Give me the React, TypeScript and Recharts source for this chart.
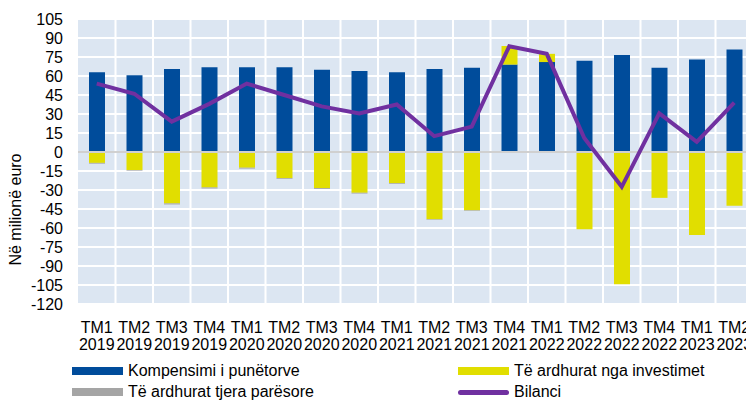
import React from "react";
import { ComposedChart, Bar, Line, XAxis, YAxis, CartesianGrid, ReferenceLine } from "recharts";

const quarters = ["TM1","TM2","TM3","TM4","TM1","TM2","TM3","TM4","TM1","TM2","TM3","TM4","TM1","TM2","TM3","TM4","TM1","TM2"];
const years = ["2019","2019","2019","2019","2020","2020","2020","2020","2021","2021","2021","2021","2022","2022","2022","2022","2023","2023"];
const compensation = [63, 60.5, 65.5, 67, 67, 67, 65, 64, 63, 65.5, 66.5, 69, 71, 72, 76.5, 66.5, 73, 81];
const investment = [-8.6, -14.2, -40.6, -28, -12.4, -20.6, -28.5, -32.2, -24.6, -53, -46, 14.7, 6.5, -61, -104.4, -36.2, -65.6, -42.5];
const otherPrimary = [-0.6, -0.5, -0.8, -0.8, -0.7, -0.6, -0.7, -0.6, -0.6, -0.4, -0.4, 0, 0, 0, 0, 0, 0, 0];
const balance = [54, 46, 24, 38, 54, 45, 36, 30.5, 37.5, 12.5, 20, 83.5, 77.5, 11, -27.5, 30.5, 8, 39];
const yTicks = [-120, -105, -90, -75, -60, -45, -30, -15, 0, 15, 30, 45, 60, 75, 90, 105];

const seriesNames = ["Kompensimi i punëtorve", "Të ardhurat nga investimet", "Të ardhurat tjera parësore", "Bilanci"];
const colors = ["#004C9B", "#E1DE00", "#A5A5A5", "#7030A0"];

const data = quarters.map((q, i) => ({
  label: q + "|" + years[i],
  comp: compensation[i],
  inv: investment[i],
  oth: otherPrimary[i],
  bal: balance[i],
}));

const FONT = "'Liberation Sans', Arial, sans-serif";

const XTick = (props: any) => {
  const { x, y, payload } = props;
  const [a, b] = String(payload.value).split("|");
  return (
    <text x={x} textAnchor="middle" fontFamily={FONT} fontSize={16} fill="#000">
      <tspan x={x} y={y + 29}>{a}</tspan>
      <tspan x={x} y={y + 46}>{b}</tspan>
    </text>
  );
};

const YLabel = (props: any) => {
  const vb = props.viewBox || {};
  const cx = (vb.x || 0) + 15;
  const cy = (vb.y || 0) + (vb.height || 0) / 2 + 48;
  return (
    <text x={cx} y={cy} transform={`rotate(-90, ${cx}, ${cy})`} textAnchor="middle" dominantBaseline="central" fontFamily={FONT} fontSize={16} fill="#000">
      Në milionë euro
    </text>
  );
};

const LegendItem = ({ idx, left, top, line }: { idx: number; left: number; top: number; line?: boolean }) => (
  <div style={{ position: "absolute", left, top, display: "flex", alignItems: "center", height: 18, lineHeight: "18px" }}>
    <div style={{ width: 51, height: line ? 5 : 8, background: colors[idx], borderRadius: line ? 3 : 0, marginRight: 5 }} />
    <span style={{ fontFamily: FONT, fontSize: 16, lineHeight: "18px", color: "#000", whiteSpace: "nowrap" }}>{seriesNames[idx]}</span>
  </div>
);

export default function App() {
  return (
    <div style={{ position: "fixed", left: 0, top: 0, width: 746, height: 400, overflow: "hidden", background: "#fff" }}>
      <ComposedChart
        width={760}
        height={400}
        data={data}
        stackOffset="sign"
        margin={{ top: 19, right: 7, left: 0, bottom: 0 }}
        barSize={16}
      >
        <CartesianGrid
          fill="#DCE6F2"
          fillOpacity={1}
          stroke="#FFFFFF"
          strokeWidth={2}
          verticalCoordinatesGenerator={({ offset }: any) =>
            Array.from({ length: 17 }, (_, k) => offset.left + ((k + 1) * offset.width) / 18)
          }
        />
        <XAxis
          dataKey="label"
          interval={0}
          tickLine={false}
          axisLine={false}
          tickSize={0}
          tickMargin={0}
          height={96}
          tick={<XTick />}
        />
        <YAxis
          domain={[-120, 105]}
          ticks={yTicks}
          interval={0}
          tickLine={false}
          axisLine={false}
          tickSize={0}
          tickMargin={15}
          width={78}
          tick={{ fontFamily: FONT, fontSize: 16, fill: "#000" }}
          label={<YLabel />}
        />
        <Bar dataKey="comp" stackId="s" fill={colors[0]} isAnimationActive={false} />
        <Bar dataKey="inv" stackId="s" fill={colors[1]} isAnimationActive={false} />
        <Bar dataKey="oth" stackId="s" fill={colors[2]} isAnimationActive={false} />
        <ReferenceLine y={0} stroke="#D0D0D0" strokeWidth={2} />
        <Line dataKey="bal" stroke={colors[3]} strokeWidth={4} dot={false} isAnimationActive={false} />
      </ComposedChart>
      <LegendItem idx={0} left={72} top={362} />
      <LegendItem idx={1} left={458} top={362} />
      <LegendItem idx={2} left={72} top={383} />
      <LegendItem idx={3} left={458} top={383} line />
    </div>
  );
}
